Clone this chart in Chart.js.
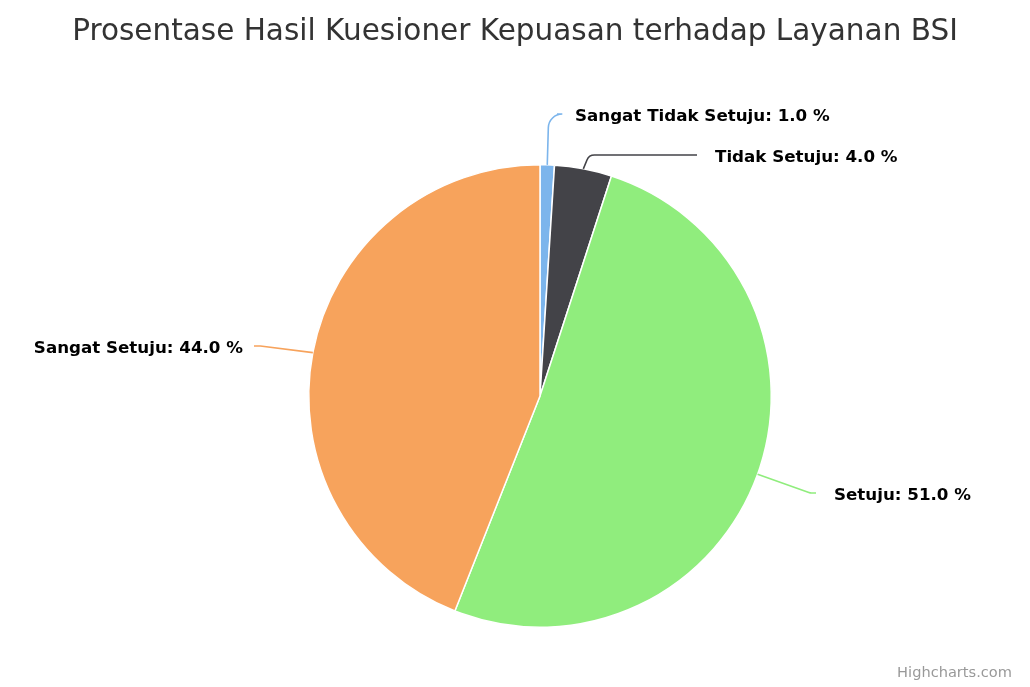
<!DOCTYPE html>
<html lang="id">
<head>
  <meta charset="UTF-8">
  <title>Prosentase Hasil Kuesioner</title>
  <script src="https://cdn.jsdelivr.net/npm/chart.js"></script>
  <style>
    html, body { margin: 0; padding: 0; background: #fff; }
    #wrap { width: 1030px; height: 687px; position: relative; }
  </style>
</head>
<body>
<div id="wrap"><canvas id="grafik"></canvas></div>

<script>
const judul = "Prosentase Hasil Kuesioner Kepuasan terhadap Layanan BSI";
const kategori = ["Sangat Tidak Setuju", "Tidak Setuju", "Setuju", "Sangat Setuju"];
const persen = [1.0, 4.0, 51.0, 44.0];
const warna = ["#7cb5ec", "#434348", "#90ed7d", "#f7a35c"];

// where each data label sits (text anchor) and how the connector bends
const posLabel = [
  { x: 575, y: 117, sisi: "left",  crook: 0.15, r: 14 },
  { x: 715, y: 158, sisi: "left",  crook: 0.05, r: 8 },
  { x: 834, y: 496, sisi: "left",  crook: 0.9,  r: 8 },
  { x: 243, y: 349, sisi: "right", crook: 0.9,  r: 8 }
];

const fontLabel = "bold 16.7px 'DejaVu Sans', sans-serif";

const pluginLabel = {
  id: "pluginLabel",
  afterDraw(chart) {
    const ctx = chart.ctx;
    ctx.save();
    // judul
    ctx.font = "29.5px 'DejaVu Sans', sans-serif";
    ctx.fillStyle = "#333333";
    ctx.textAlign = "center";
    ctx.textBaseline = "middle";
    ctx.fillText(judul, 515, 32);

    // credit
    ctx.font = "14.6px 'DejaVu Sans', sans-serif";
    ctx.fillStyle = "#999999";
    ctx.textAlign = "right";
    ctx.fillText("Highcharts.com", 1012, 673);

    const meta = chart.getDatasetMeta(0);
    meta.data.forEach((arc, i) => {
      const p = arc.getProps(["x", "y", "startAngle", "endAngle", "outerRadius"], true);
      const mid = (p.startAngle + p.endAngle) / 2;
      const ex = p.x + Math.cos(mid) * p.outerRadius;
      const ey = p.y + Math.sin(mid) * p.outerRadius;
      const lp = posLabel[i];
      const lx = lp.sisi === "left" ? lp.x - 18 : lp.x + 11;
      const ly = lp.y - 3;
      const cx = ex + (lx - ex) * lp.crook;

      ctx.strokeStyle = warna[i];
      ctx.lineWidth = 1.6;
      ctx.beginPath();
      ctx.moveTo(ex, ey);
      ctx.arcTo(cx, ly, lx, ly, lp.r);
      ctx.lineTo(lx, ly);
      ctx.stroke();

      ctx.font = fontLabel;
      ctx.fillStyle = "#000000";
      ctx.textAlign = lp.sisi;
      ctx.textBaseline = "middle";
      ctx.fillText(kategori[i] + ": " + persen[i].toFixed(1) + " %", lp.x, lp.y);
    });
    ctx.restore();
  }
};

new Chart(document.getElementById("grafik"), {
  type: "pie",
  data: {
    labels: kategori,
    datasets: [{
      data: persen,
      backgroundColor: warna,
      borderColor: "#ffffff",
      borderWidth: 1.5
    }]
  },
  options: {
    responsive: true,
    maintainAspectRatio: false,
    animation: false,
    layout: { padding: { left: 308, right: 258, top: 164, bottom: 59 } },
    plugins: {
      legend: { display: false },
      title: { display: false },
      tooltip: { enabled: false }
    }
  },
  plugins: [pluginLabel]
});
</script>
</body>
</html>
